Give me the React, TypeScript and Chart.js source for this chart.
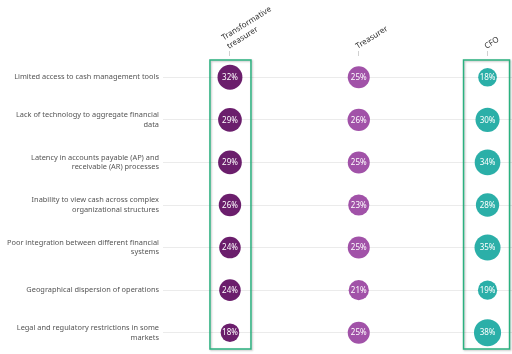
import React, { useEffect, useRef } from "react";
import { Chart, registerables } from "chart.js";

Chart.register(...registerables);

const categories: (string | string[])[] = [
  "Limited access to cash management tools",
  ["Lack of technology to aggregate financial", "data"],
  ["Latency in accounts payable (AP) and", "receivable (AR) processes"],
  ["Inability to view cash across complex", "organizational structures"],
  ["Poor integration between different financial", "systems"],
  "Geographical dispersion of operations",
  ["Legal and regulatory restrictions in some", "markets"],
];
const columns: string[][] = [["Transformative", "treasurer"], ["Treasurer"], ["CFO"]];
const transformative = [32, 29, 29, 26, 24, 24, 18];
const treasurer = [25, 26, 25, 23, 25, 21, 25];
const cfo = [18, 30, 34, 28, 35, 19, 38];
const seriesColors = ["#6b1e6c", "#a152a8", "#2bafa8"];
const highlighted = [0, 2];

const FONT = "'Noto Sans', 'Open Sans', sans-serif";

const labelPlugin = {
  id: "bubbleLabels",
  afterDatasetsDraw(chart: any) {
    const ctx = chart.ctx;
    ctx.save();
    ctx.fillStyle = "#ffffff";
    ctx.font = `8px ${FONT}`;
    ctx.textAlign = "center";
    ctx.textBaseline = "middle";
    chart.data.datasets.forEach((ds: any, i: number) => {
      const meta = chart.getDatasetMeta(i);
      meta.data.forEach((el: any, j: number) => {
        ctx.fillText(`${ds.values[j]}%`, el.x, el.y + 0.5);
      });
    });
    ctx.restore();
  },
};

const headerPlugin = {
  id: "headerLabels",
  afterDraw(chart: any) {
    const ctx = chart.ctx;
    const xs = chart.scales.x;
    const area = chart.chartArea;
    const angle = (32 * Math.PI) / 180;
    const lineH = 10;
    ctx.save();
    ctx.fillStyle = "#333";
    ctx.font = `8px ${FONT}`;
    ctx.textAlign = "left";
    ctx.textBaseline = "alphabetic";
    columns.forEach((lines, c) => {
      const px = xs.getPixelForValue(c);
      ctx.save();
      ctx.translate(px - 1, area.top - 7);
      ctx.rotate(-angle);
      lines.forEach((ln, k) => {
        ctx.fillText(ln, 0, -(lines.length - 1 - k) * lineH);
      });
      ctx.restore();
    });
    ctx.restore();
  },
};

const boxPlugin = {
  id: "highlightBoxes",
  afterDraw(chart: any) {
    const ctx = chart.ctx;
    const xs = chart.scales.x;
    const area = chart.chartArea;
    ctx.save();
    ctx.strokeStyle = "#2ab17f";
    ctx.lineWidth = 1.5;
    ctx.shadowColor = "rgba(0,0,0,0.25)";
    ctx.shadowBlur = 2;
    ctx.shadowOffsetX = 1;
    ctx.shadowOffsetY = 1;
    highlighted.forEach((c) => {
      const px = xs.getPixelForValue(c);
      const left = c === 0 ? 20 : 24;
      const right = c === 0 ? 21 : 22;
      ctx.strokeRect(px - left, area.top + 4, left + right, area.bottom - area.top - 9);
    });
    ctx.restore();
  },
};

export default function App() {
  const ref = useRef<HTMLCanvasElement>(null);
  useEffect(() => {
    const series = [transformative, treasurer, cfo];
    const chart = new Chart(ref.current!, {
      type: "bubble",
      data: {
        datasets: series.map((vals, i) => ({
          label: columns[i].join(" "),
          values: vals,
          data: vals.map((v, j) => ({ x: i, y: j, r: 2.2 * Math.sqrt(v) })),
          backgroundColor: seriesColors[i],
          borderColor: seriesColors[i],
          borderWidth: 0,
          clip: false,
        })) as any,
      },
      options: {
        animation: false,
        responsive: true,
        maintainAspectRatio: false,
        layout: { padding: 0, autoPadding: false },
        plugins: { legend: { display: false }, tooltip: { enabled: false } },
        scales: {
          x: {
            type: "linear",
            position: "top",
            min: -0.52,
            max: 2.19,
            afterBuildTicks: (s: any) => {
              s.ticks = [0, 1, 2].map((v) => ({ value: v }));
            },
            afterFit: (s: any) => {
              s.height = 56;
              s.paddingLeft = 0;
              s.paddingRight = 0;
              s.paddingTop = 0;
              s.paddingBottom = 0;
            },
            ticks: { display: false },
            grid: { drawOnChartArea: false, drawTicks: true, tickLength: 5, color: "#d0d0d0" },
            border: { display: false },
          },
          y: {
            type: "category",
            labels: categories as any,
            offset: true,
            afterFit: (s: any) => {
              s.width = 163;
              s.paddingLeft = 0;
              s.paddingRight = 0;
              s.paddingTop = 0;
              s.paddingBottom = 0;
            },
            ticks: {
              padding: 4,
              color: "#555",
              font: { family: FONT, size: 7.4, lineHeight: 1.3 },
            },
            grid: { offset: false, drawTicks: false, color: "#ebebeb" },
            border: { display: false },
          },
        },
      },
      plugins: [labelPlugin, boxPlugin, headerPlugin],
    });
    return () => chart.destroy();
  }, []);
  return (
    <div style={{ position: "absolute", left: 0, top: 0, width: 512, height: 354, background: "#fff" }}>
      <canvas ref={ref} />
    </div>
  );
}
